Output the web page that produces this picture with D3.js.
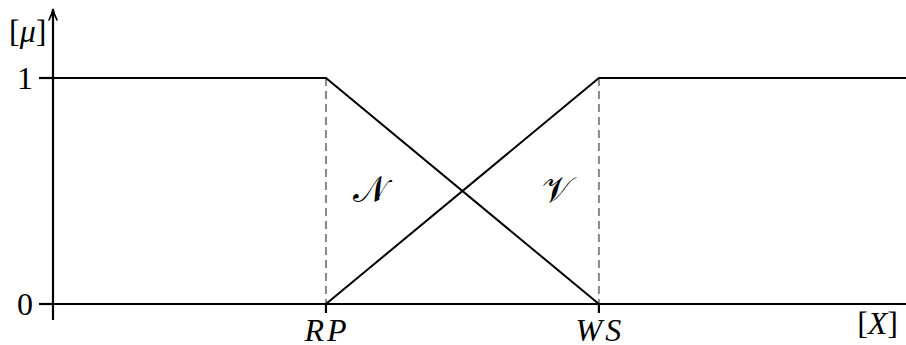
<!DOCTYPE html>
<html>
<head>
<meta charset="utf-8">
<script src="https://cdn.jsdelivr.net/npm/d3@7"></script>
<style>
  body { margin: 0; background: #fff; }
</style>
</head>
<body>
<svg id="chart" width="906" height="345"></svg>
<script>
// x positions in units of the [X] axis, y is membership [mu]
const xTicks = [1, 2];
const xTickLabels = ['RP', 'WS'];
const yTicks = [0, 1];
const nPoints = [[0, 1], [1, 1], [2, 0]];   // N membership
const vPoints = [[1, 0], [2, 1], [3.2, 1]]; // V membership
const setLabels = [{ name: '\u{1D4A9}', x: 1.16, y: 0.5 }, { name: '\u{1D4B1}', x: 1.845, y: 0.5 }];

const width = 906, height = 345;
const margin = { top: 78, left: 53, bottom: 41 };

const x = d3.scaleLinear().domain([0, 3.125]).range([margin.left, width]);
const y = d3.scaleLinear().domain([0, 1]).range([height - margin.bottom, margin.top]);

const svg = d3.select('#chart');

// dashed guides
svg.selectAll('.guide')
  .data(xTicks)
  .enter()
  .append('line')
  .attr('x1', d => x(d)).attr('x2', d => x(d))
  .attr('y1', y(1)).attr('y2', y(0))
  .attr('stroke', '#888')
  .attr('stroke-width', 2)
  .attr('stroke-dasharray', '8,5');

// membership lines
const line = d3.line().x(d => x(d[0])).y(d => y(d[1]));
[nPoints, vPoints].forEach(pts => {
  svg.append('path')
    .attr('d', line(pts))
    .attr('fill', 'none')
    .attr('stroke', '#000')
    .attr('stroke-width', 2);
});

// axes
svg.append('line')
  .attr('x1', x(0) - 14).attr('x2', width)
  .attr('y1', y(0)).attr('y2', y(0))
  .attr('stroke', '#000').attr('stroke-width', 2.2);

svg.append('line')
  .attr('x1', x(0)).attr('x2', x(0))
  .attr('y1', y(0) + 16).attr('y2', 12)
  .attr('stroke', '#000').attr('stroke-width', 2.2);

// arrow head on y axis
svg.append('path')
  .attr('d', `M${x(0) - 4},${20} Q${x(0) - 1},${14} ${x(0)},${9} Q${x(0) + 1},${14} ${x(0) + 4},${20}`)
  .attr('fill', 'none')
  .attr('stroke', '#000')
  .attr('stroke-width', 1.6)
  .attr('stroke-linecap', 'round');

// y tick marks + labels
svg.selectAll('.ytick')
  .data(yTicks)
  .enter()
  .append('line')
  .attr('x1', x(0) - 14).attr('x2', x(0))
  .attr('y1', d => y(d)).attr('y2', d => y(d))
  .attr('stroke', '#000').attr('stroke-width', 2.2);

svg.selectAll('.ylabel')
  .data(yTicks)
  .enter()
  .append('text')
  .attr('x', x(0) - 20)
  .attr('y', d => y(d) + 11)
  .attr('text-anchor', 'end')
  .attr('font-family', 'Liberation Serif')
  .attr('font-size', 32)
  .text(d => d);

// x tick marks + labels
svg.selectAll('.xtick')
  .data(xTicks)
  .enter()
  .append('line')
  .attr('x1', d => x(d)).attr('x2', d => x(d))
  .attr('y1', y(0)).attr('y2', y(0) + 9)
  .attr('stroke', '#000').attr('stroke-width', 2.2);

svg.selectAll('.xlabel')
  .data(xTicks)
  .enter()
  .append('text')
  .attr('x', d => x(d) + 1)
  .attr('y', y(0) + 37)
  .attr('text-anchor', 'middle')
  .attr('font-family', 'Liberation Serif')
  .attr('font-size', 32)
  .attr('font-style', 'italic')
  .attr('letter-spacing', 3)
  .text((d, i) => xTickLabels[i]);

// axis titles
const mu = svg.append('text')
  .attr('x', 9).attr('y', 42)
  .attr('font-family', 'Liberation Serif')
  .attr('font-size', 32);
mu.append('tspan').text('[');
mu.append('tspan').attr('font-style', 'italic').text('\u03BC');
mu.append('tspan').text(']');

const xt = svg.append('text')
  .attr('x', 898).attr('y', y(0) + 30)
  .attr('text-anchor', 'end')
  .attr('font-family', 'Liberation Serif')
  .attr('font-size', 32);
xt.append('tspan').text('[');
xt.append('tspan').attr('font-style', 'italic').text('X');
xt.append('tspan').text(']');

// set labels (calligraphic)
svg.selectAll('.setlabel')
  .data(setLabels)
  .enter()
  .append('text')
  .attr('x', d => x(d.x))
  .attr('y', d => y(d.y) + 11)
  .attr('text-anchor', 'middle')
  .attr('font-family', 'Liberation Serif')
  .attr('font-size', 36)
  .text(d => d.name);
</script>
</body>
</html>
